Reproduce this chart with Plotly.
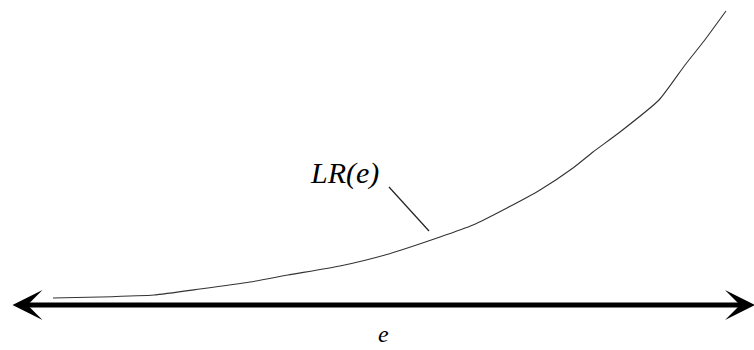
import plotly.graph_objects as go

# Curve LR(e) (arbitrary units)
e_values = [5.3, 10.0, 15.4, 20.0, 25.0, 28.8, 34.0, 38.5, 44.0, 47.3,
            50.7, 54.0, 57.3, 59.3, 62.0, 65.9, 68.5, 70.4, 72.6]
lr_values = [0.7, 0.8, 1.0, 1.6, 2.3, 3.0, 3.9, 5.0, 6.8, 8.0,
             9.7, 11.5, 13.7, 15.3, 17.3, 20.5, 24.0, 26.4, 29.4]

curve_label = "LR(e)"
axis_label = "e"

serif = "Times New Roman"

fig = go.Figure()
fig.add_trace(go.Scatter(x=e_values, y=lr_values, mode="lines",
                         line=dict(color="#333333", width=1.1, shape="spline", smoothing=0.5),
                         hoverinfo="skip", showlegend=False))

# double-headed e axis
fig.add_annotation(x=75.5, y=0, ax=1.1, ay=0, xref="x", yref="y",
                   axref="x", ayref="y", text="", showarrow=True,
                   arrowside="end+start", arrowhead=3, startarrowhead=3,
                   arrowsize=1, startarrowsize=1, arrowwidth=5,
                   arrowcolor="black")

# curve label with leader line
fig.add_annotation(x=34.4, y=13.2, text=f"<i>{curve_label}</i>", showarrow=False,
                   font=dict(family=serif, size=30, color="black"))
fig.add_shape(type="line", x0=38.9, y0=11.8, x1=42.9, y1=7.4,
              line=dict(color="#222222", width=1.2))

# axis label
fig.add_annotation(x=38.3, y=-2.9, text=f"<i>{axis_label}</i>", showarrow=False,
                   font=dict(family=serif, size=24, color="black"))

fig.update_layout(
    width=754, height=350,
    margin=dict(l=0, r=0, t=0, b=0),
    plot_bgcolor="white", paper_bgcolor="white",
    xaxis=dict(range=[0, 75.4], visible=False, fixedrange=True),
    yaxis=dict(range=[-4.5, 30.5], visible=False, fixedrange=True),
)

# drop the page's default body margin so the figure sits at the window corner
fig.write_html("out.html", config={"displayModeBar": False},
               post_script="document.body.style.margin='0';")
